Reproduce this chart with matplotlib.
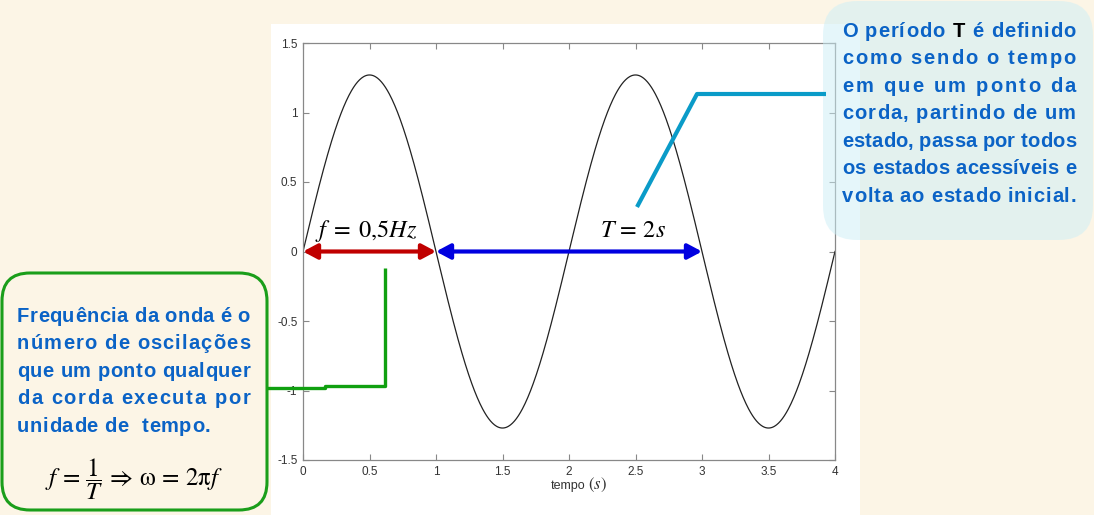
import numpy as np
import matplotlib
matplotlib.use("Agg")
import matplotlib.pyplot as plt
from matplotlib.patches import FancyBboxPatch, Rectangle
from matplotlib import font_manager as fm

plt.rcParams['mathtext.fontset'] = 'stix'
plt.rcParams['font.family'] = ['Liberation Sans', 'DejaVu Sans']

# wave
amplitude = 1.27
period = 2.0          # s
t_max = 4.0
x_ticks = [0, 0.5, 1, 1.5, 2, 2.5, 3, 3.5, 4]
x_tick_labels = ['0', '0.5', '1', '1.5', '2', '2.5', '3', '3.5', '4']
y_ticks = [-1.5, -1, -0.5, 0, 0.5, 1, 1.5]
y_tick_labels = ['-1.5', '-1', '-0.5', '0', '0.5', '1', '1.5']

freq_span = (0, 1)    # red arrow
period_span = (1, 3)  # blue arrow

box_T_lines = ["O período T é definido",
               "como sendo o tempo",
               "em que um ponto da",
               "corda, partindo de um",
               "estado, passa por todos",
               "os estados acessíveis e",
               "volta ao estado inicial."]
box_f_lines = ["Frequência da onda é o",
               "número de oscilações",
               "que um ponto qualquer",
               "da corda executa por",
               "unidade de  tempo."]

W, H = 1094, 515
cream = '#FCF5E6'
text_blue = '#0B63C6'

fig = plt.figure(figsize=(W / 100, H / 100), dpi=100, facecolor=cream)

# white panel behind the plot
fig.add_artist(Rectangle((271 / W, 0), (860 - 271) / W, (515 - 24) / H,
                         transform=fig.transFigure, facecolor='white',
                         edgecolor='none', zorder=0.5))

ax = fig.add_axes([303 / W, (H - 460) / H, (835 - 303) / W, (460 - 43) / H])
ax.set_zorder(1)
t = np.linspace(0, t_max, 801)
ax.plot(t, amplitude * np.sin(2 * np.pi * t / period), color='#222222', lw=0.9)
ax.set_xlim(0, t_max)
ax.set_ylim(-1.5, 1.5)
ax.set_xticks(x_ticks, x_tick_labels)
ax.set_yticks(y_ticks, y_tick_labels)
ax.tick_params(direction='in', length=4, width=0.8, color='#888888',
               labelsize=8.5, labelcolor='#333333', top=True, right=True, pad=4)
for s in ax.spines.values():
    s.set_color('#888888')
    s.set_linewidth(0.9)
ax.text(0.530, -0.07, 'tempo', transform=ax.transAxes, fontsize=9,
        color='#333333', ha='right', va='baseline')
ax.text(0.536, -0.07, r'$(s)$', transform=ax.transAxes, fontsize=12,
        color='#333333', ha='left', va='baseline')

ax.annotate('', xy=(freq_span[1], 0), xytext=(freq_span[0], 0),
            arrowprops=dict(arrowstyle='<|-|>,head_length=0.6,head_width=0.32',
                            mutation_scale=14, color='#C00000', lw=3,
                            shrinkA=0, shrinkB=0))
ax.annotate('', xy=(period_span[1], 0), xytext=(period_span[0], 0),
            arrowprops=dict(arrowstyle='<|-|>,head_length=0.6,head_width=0.32',
                            mutation_scale=14, color='#0000E0', lw=3,
                            shrinkA=0, shrinkB=0))
ax.text(0.09, 0.104, r'$f\;=\;0{,}5Hz$', fontsize=17.5, ha='left', va='baseline')
ax.text(2.233, 0.104, r'$T\,=\,2s$', fontsize=17.5, ha='left', va='baseline')

# overlay in pixel coordinates for the callouts
ov = fig.add_axes([0, 0, 1, 1])
ov.set_zorder(5)
ov.set_xlim(0, W)
ov.set_ylim(H, 0)
ov.axis('off')
ov.patch.set_alpha(0)

ov.add_patch(FancyBboxPatch((823, 1), 270, 239,
                            boxstyle='round,pad=0,rounding_size=34',
                            facecolor='#CCEFF7', alpha=0.5, edgecolor='none'))
ov.add_patch(FancyBboxPatch((2, 273), 265, 237,
                            boxstyle='round,pad=0,rounding_size=28',
                            facecolor=cream, edgecolor='#1A9E1A', lw=2.2))

ov.plot([637, 697, 826], [207, 94, 94], color='#0A9BC8', lw=3,
        solid_capstyle='butt')
ov.plot([267, 325, 325, 385, 385], [387.5, 387.5, 385.5, 385.5, 268],
        color='#10A010', lw=2.4, solid_capstyle='butt')

fs_box = 14.5
fp = fm.FontProperties(family='Liberation Sans', weight='bold', size=fs_box)
font = fm.get_font(fm.findfont(fp))
font.set_size(fs_box, 100)


def advance(ch):
    g = font.load_char(ord(ch))
    return g.linearHoriAdvance / 65536


def spaced_line(text, x0, y, width=None, extra=None, colors=None):
    adv = [advance(c) for c in text]
    if extra is None:
        extra = (width - sum(adv[:-1]) - adv[-1]) / (len(text) - 1)
    x = x0
    for i, c in enumerate(text):
        col = colors[i] if colors else text_blue
        ov.text(x, y, c, fontproperties=fp, color=col, ha='left', va='baseline')
        x += adv[i] + extra


for i, line in enumerate(box_T_lines):
    cols = None
    if i == 0:
        k = line.index('T')
        cols = [text_blue] * len(line)
        cols[k] = 'black'
    spaced_line(line, 842, 36.7 + 27.5 * i, width=1076 - 842, colors=cols)

for i, line in enumerate(box_f_lines):
    if i < len(box_f_lines) - 1:
        spaced_line(line, 17, 321.7 + 27.5 * i, width=250 - 17)
    else:
        spaced_line(line, 17, 321.7 + 27.5 * i, extra=0.6)

ov.text(134, 479,
        r'$f\,=\,\dfrac{1}{T}\,\Rightarrow\,\mathrm{\omega}\,=\,2\mathrm{\pi} f$',
        fontsize=18, ha='center', va='center')

fig.savefig('out.png', dpi=100, facecolor=cream)
